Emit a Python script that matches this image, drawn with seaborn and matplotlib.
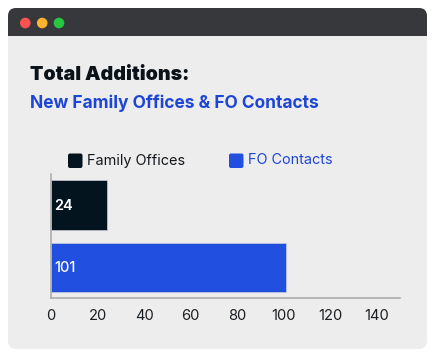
import matplotlib
matplotlib.use('Agg')
import matplotlib.pyplot as plt
from matplotlib.patches import FancyBboxPatch, Circle, Rectangle
import seaborn as sns
import pandas as pd

# Data for visualization
categories = ["Family Offices", "FO Contacts"]
values = [24, 101]
x_ticks = [0, 20, 40, 60, 80, 100, 120, 140]
colors = ["#04141f", "#2150e0"]

W, H = 436, 358

sns.set_theme(style="white")
plt.rcParams['font.family'] = ['Inter', 'DejaVu Sans']

df = pd.DataFrame({"category": categories, "value": values})

fig = plt.figure(figsize=(W / 100, H / 100), dpi=100, facecolor="white")

# window frame, drawn in pixel coords on a full figure axes
bg = fig.add_axes([0, 0, 1, 1], zorder=0)
bg.set_xlim(0, W)
bg.set_ylim(H, 0)
bg.axis("off")
bg.add_patch(FancyBboxPatch((8, 8), 419, 341, boxstyle="round,pad=0,rounding_size=8", mutation_scale=1,
                            fc="#ededee", ec="none"))
bg.add_patch(FancyBboxPatch((8, 8), 419, 27, boxstyle="round,pad=0,rounding_size=8", mutation_scale=1,
                            fc="#37383b", ec="none"))
bg.add_patch(Rectangle((8, 20), 419, 15.5, fc="#37383b", ec="none"))
for cx, c in zip([25.3, 42.2, 59], ["#fb5250", "#fdb32c", "#27c840"]):
    bg.add_patch(Circle((cx, 23), 5.3, fc=c, ec="none"))

bg.text(30, 75, "Total Additions:", fontsize=14.1, fontweight="black", color="#0b1218", va="center")
bg.text(30, 103, "New Family Offices & FO Contacts", fontsize=12.5, fontweight="bold", color="#1e46d6", va="center")

# legend
for px, c, name, tc in zip([68, 229], colors, categories, ["#15191d", "#1e46d6"]):
    bg.add_patch(FancyBboxPatch((px, 153.5), 14.5, 14.5, boxstyle="round,pad=0,rounding_size=2", mutation_scale=1,
                                fc=c, ec="none"))
    bg.text(px + 18.5, 160.5, name, fontsize=10.4, color=tc, va="center")

# bar chart
ax = fig.add_axes([51 / W, 1 - 298 / H, 349 / W, 124 / H], zorder=1)
ax.patch.set_alpha(0)
sns.barplot(data=df, x="value", y="category", hue="category", palette=colors, width=0.8, saturation=1,
            dodge=False, legend=False, ax=ax, edgecolor="#c9cbd6", linewidth=0.5)
ax.set_xlim(0, 150)
ax.set_ylim(1.49, -0.5)
ax.set_xticks(x_ticks)
ax.set_yticks([])
ax.set_xlabel("")
ax.set_ylabel("")
ax.tick_params(axis="x", length=0, pad=8.2, labelsize=10.6, labelcolor="#1c1f22")
sns.despine(ax=ax)
ax.spines["left"].set_color("#a9a9a9")
ax.spines["bottom"].set_color("#a9a9a9")
ax.spines["left"].set_linewidth(1.1)
ax.spines["bottom"].set_linewidth(1.1)

for i, (v, wt) in enumerate(zip(values, ["semibold", "medium"])):
    ax.text(1.4, i + 0.012, str(v), color="white", fontsize=10.5, fontweight=wt, va="center")

fig.savefig("out.png", dpi=100)
